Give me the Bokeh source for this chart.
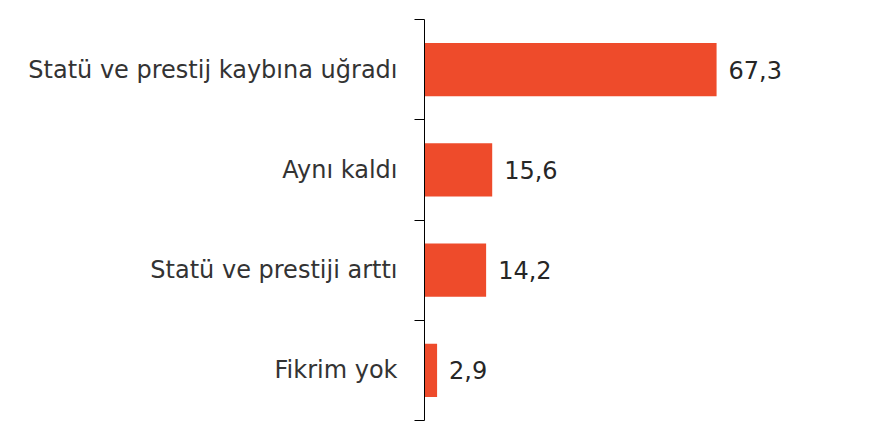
from bokeh.plotting import figure
from bokeh.models import ColumnDataSource, FixedTicker, Range1d
from bokeh.core.properties import value
from bokeh.embed import file_html
from bokeh.resources import INLINE

# data, top to bottom as in the chart
categories = ["Statü ve prestij kaybına uğradı", "Aynı kaldı", "Statü ve prestiji arttı", "Fikrim yok"]
values = [67.3, 15.6, 14.2, 2.9]
value_labels = ["67,3", "15,6", "14,2", "2,9"]

n = len(categories)
ypos = [n - i - 0.5 for i in range(n)]

source = ColumnDataSource(data=dict(y=ypos, v=values, lbl=value_labels))

p = figure(width=864, height=424,
           x_range=Range1d(0, 100), y_range=Range1d(0, n),
           x_axis_location=None,
           output_backend="svg", toolbar_location=None,
           min_border_left=424, min_border_right=6,
           min_border_top=19, min_border_bottom=4)

p.hbar(y="y", left=0, right="v", height=0.53, source=source,
       color="#EE4B2B", line_color=None)

p.text(x="v", y="y", text="lbl", source=source, x_offset=12,
       text_baseline="middle", text_align="left",
       text_font=value("DejaVu Sans"), text_font_size="24px", text_color="#262626")

# y axis: labels at band centres, small ticks at band boundaries
ax = p.yaxis[0]
ax.ticker = FixedTicker(ticks=ypos, minor_ticks=list(range(n + 1)))
ax.major_label_overrides = {y: c for y, c in zip(ypos, categories)}
ax.major_tick_out = 0
ax.major_tick_in = 0
ax.minor_tick_out = 10
ax.minor_tick_in = 0
ax.minor_tick_line_color = "black"
ax.axis_line_color = "black"
ax.major_label_standoff = 17
ax.major_label_text_font = "DejaVu Sans"
ax.major_label_text_font_size = "24px"
ax.major_label_text_color = "#333333"

p.grid.visible = False
p.outline_line_color = None

open("out.html", "w").write(file_html(p, INLINE))
